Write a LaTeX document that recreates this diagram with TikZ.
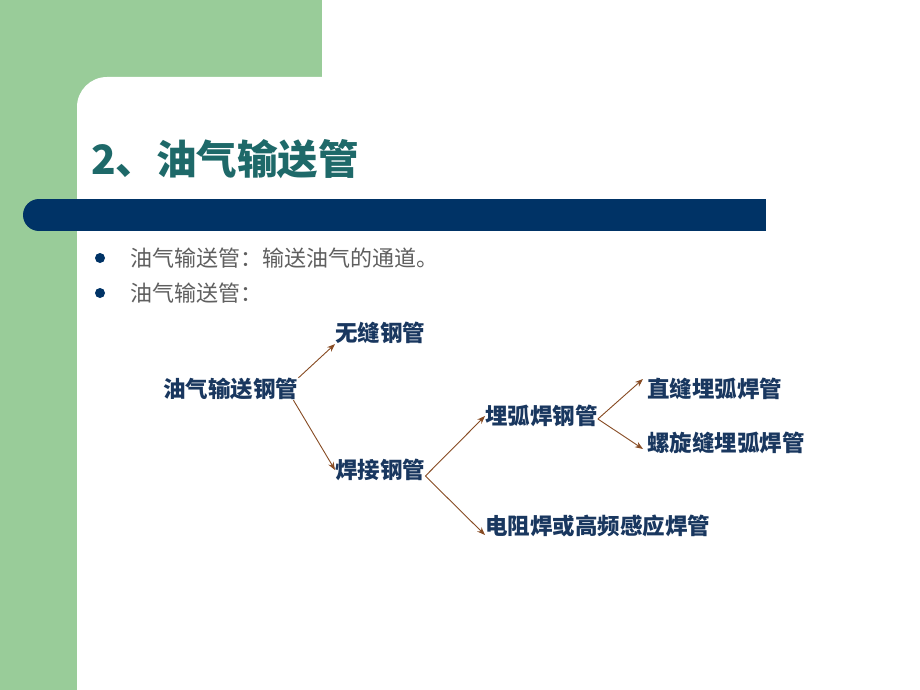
\documentclass[tikz,border=0pt]{standalone}
\usepackage{fontspec}
\setmainfont{Noto Sans CJK SC}
\newfontfamily\cjk{Noto Sans CJK SC}
\usetikzlibrary{arrows.meta}
\definecolor{greenbg}{RGB}{153,204,153}
\definecolor{barblue}{RGB}{0,51,102}
\definecolor{titleteal}{RGB}{30,105,105}
\definecolor{treeblue}{RGB}{25,55,95}
\definecolor{bullgray}{RGB}{95,95,95}
\definecolor{arrbrown}{RGB}{135,75,35}
\tikzset{
  treenode/.style={inner sep=0pt, anchor=west, text=treeblue, font=\cjk\bfseries\fontsize{22.5}{24}\selectfont},
  bulltext/.style={inner sep=0pt, anchor=west, text=bullgray, font=\cjk\fontsize{22}{24}\selectfont},
  arr/.style={draw=arrbrown, line width=0.9pt, -{Stealth[length=8pt,width=6pt]}}
}
\begin{document}
\begin{tikzpicture}[x=1pt,y=-1pt]
\useasboundingbox (0,0) rectangle (920,690);
\fill[white] (0,0) rectangle (920,690);
% green L background
\fill[greenbg] (0,0) rectangle (322,690);
\begin{scope}
\clip (0,0) rectangle (920,690);
\fill[white, rounded corners=30pt] (77,77) rectangle (980,750);
\end{scope}
% blue bar
\fill[barblue] (39,199) rectangle (766,231);
\fill[barblue] (39,215) circle (16);
% title
\node[inner sep=0pt, anchor=west, text=titleteal, font=\cjk\bfseries\fontsize{40.5}{44}\selectfont] (title) at (91,159) {2、油气输送管};
% bullets
\fill[barblue] (100,258) circle (5);
\fill[barblue] (100,293) circle (5);
\node[bulltext] (b1) at (130,258) {油气输送管：输送油气的通道。};
\node[bulltext] (b2) at (130,293) {油气输送管：};
% tree
\node[treenode] (root) at (163,389) {油气输送钢管};
\node[treenode] (wf) at (335,333) {无缝钢管};
\node[treenode] (hj) at (335,470) {焊接钢管};
\node[treenode] (mh) at (485,416) {埋弧焊钢管};
\node[treenode] (zf) at (647,389) {直缝埋弧焊管};
\node[treenode] (lx) at (647,443) {螺旋缝埋弧焊管};
\node[treenode] (dz) at (485,526) {电阻焊或高频感应焊管};
\draw[arr] (root.north east) -- (wf.south west);
\draw[arr] ([xshift=-5pt]root.south east) -- (hj.west);
\draw[arr] ([yshift=-6pt]hj.east) -- (mh.west);
\draw[arr] ([yshift=-6pt]hj.east) -- ([yshift=-9pt]dz.west);
\draw[arr] ([yshift=-3pt]mh.east) -- ([xshift=-4pt,yshift=10pt]zf.west);
\draw[arr] ([yshift=-3pt]mh.east) -- ([xshift=-4pt,yshift=-6pt]lx.west);
\end{tikzpicture}
\end{document}
